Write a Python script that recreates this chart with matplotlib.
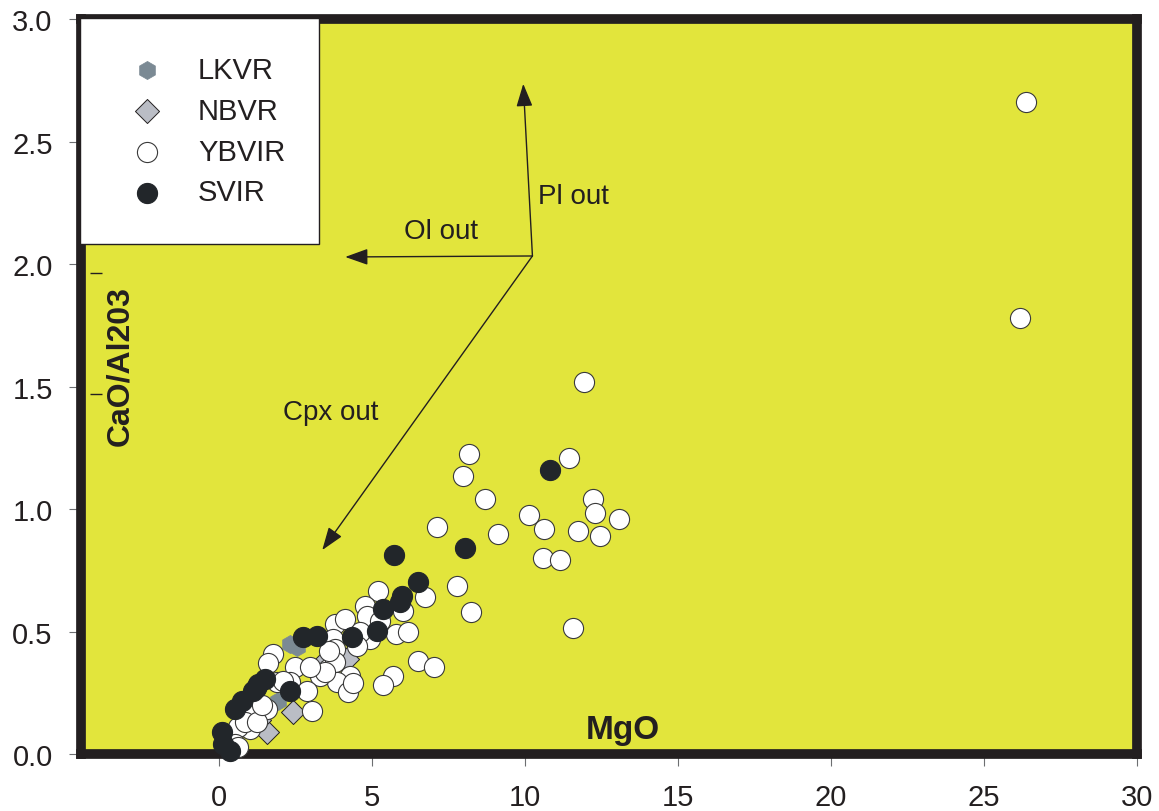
import numpy as np
import matplotlib
matplotlib.use("Agg")
import matplotlib.pyplot as plt

plt.rcParams['font.family'] = ['Liberation Sans', 'DejaVu Sans']

# MgO (wt%) vs CaO/Al2O3 for the four rock groups
lkvr_mgo = [2.55, 1.93, 2.3]
lkvr_ratio = [0.437, 0.217, 0.45]

nbvr_mgo = [2.42, 1.57, 4.19, 3.53, 1.3]
nbvr_ratio = [0.172, 0.09, 0.388, 0.388, 0.14]

ybvir_mgo = [26.37, 26.17, 11.94,
             8.18, 7.98, 8.70, 7.13, 9.13,
             11.42, 12.23, 12.27, 13.08, 10.14,
             10.63, 11.74, 12.46, 10.6, 11.15,
             7.79, 8.24, 11.55, 6.74,
             6.02, 5.2, 4.78, 5.79, 6.18,
             6.51, 7.03, 5.69, 5.36,
             4.84, 5.27, 4.94, 4.6,
             3.8, 3.73, 3.8, 3.57, 3.8,
             4.29, 3.86, 4.22, 4.38, 3.3,
             3.47, 1.77, 1.6, 2.49, 2.98,
             2.32, 2.88, 1.9, 3.04, 1.57,
             1.18, 1.01, 0.62, 0.85, 0.52,
             0.62, 1.24, 1.4, 2.1, 4.1, 4.5, 3.6]
ybvir_ratio = [2.663, 1.781, 1.52,
               1.225, 1.135, 1.04, 0.927, 0.899,
               1.21, 1.04, 0.985, 0.96, 0.976,
               0.919, 0.911, 0.891, 0.80, 0.793,
               0.686, 0.58, 0.515, 0.641,
               0.584, 0.666, 0.605, 0.49, 0.498,
               0.38, 0.355, 0.32, 0.28,
               0.564, 0.543, 0.47, 0.5,
               0.53, 0.47, 0.43, 0.347, 0.376,
               0.32, 0.294, 0.253, 0.29, 0.32,
               0.335, 0.41, 0.37, 0.355, 0.355,
               0.294, 0.257, 0.294, 0.176, 0.184,
               0.172, 0.102, 0.11, 0.13, 0.04,
               0.03, 0.13, 0.2, 0.3, 0.55, 0.44, 0.42]

svir_mgo = [10.8, 5.72, 8.05, 6.51, 5.99, 5.92, 5.36, 5.17, 4.35,
            2.75, 3.2, 2.32, 1.28, 1.5, 1.11, 0.75, 0.52, 0.1, 0.13, 0.36, 1.2]
svir_ratio = [1.16, 0.813, 0.841, 0.703, 0.646, 0.62, 0.592, 0.502, 0.478,
              0.478, 0.48, 0.257, 0.286, 0.306, 0.257, 0.217, 0.184, 0.09, 0.04, 0.012, 0.27]

# fractionation vectors: common origin and the three end points
vec_origin = (10.24, 2.034)
vec_ends = {'Pl': (9.94, 2.737), 'Ol': (4.12, 2.03), 'Cpx': (3.37, 0.833)}
vec_labels = {'Pl': (10.43, 2.28), 'Ol': (6.05, 2.136), 'Cpx': (2.09, 1.397)}

xticks = [0, 5, 10, 15, 20, 25, 30]
yticks = [0.0, 0.5, 1.0, 1.5, 2.0, 2.5, 3.0]

dark = '#231f20'
yellow = '#e2e53c'

fig = plt.figure(figsize=(11.59, 8.12), dpi=100)
ax = fig.add_axes([0.0703, 0.0702, 0.9107, 0.9046])
ax.set_facecolor(yellow)

ax.scatter(lkvr_mgo, lkvr_ratio, marker='h', s=170, c='#7b8a94', edgecolors='#7b8a94',
           linewidths=0.5, zorder=3, clip_on=False, label='LKVR')
ax.scatter(nbvr_mgo, nbvr_ratio, marker='D', s=150, c='#babdc5', edgecolors=dark,
           linewidths=0.7, zorder=3, clip_on=False, label='NBVR')
ax.scatter(ybvir_mgo, ybvir_ratio, marker='o', s=210, c='white', edgecolors='#3a3a3a',
           linewidths=0.8, zorder=4, clip_on=False, label='YBVIR')
ax.scatter(svir_mgo, svir_ratio, marker='o', s=210, c='#22262a', edgecolors='#22262a',
           linewidths=0.8, zorder=5, clip_on=False, label='SVIR')

for key, end in vec_ends.items():
    ax.annotate('', xy=end, xytext=vec_origin,
                arrowprops=dict(arrowstyle='-|>,head_length=0.7,head_width=0.25',
                                color=dark, lw=1.0, mutation_scale=20,
                                shrinkA=0, shrinkB=0), zorder=2)
    ax.text(vec_labels[key][0], vec_labels[key][1], key + ' out', fontsize=20,
            color=dark, ha='left', va='center')

ax.text(13.18, 0.10, 'MgO', fontsize=24, fontweight='bold', color=dark,
        ha='center', va='center')
ax.text(-3.24, 1.59, 'CaO/Al203', fontsize=23, fontweight='bold', color=dark,
        rotation=90, ha='center', va='center')
ax.hlines([1.965, 1.47], -4.22, -3.83, color=dark, lw=1.0)

ax.set_xlim(-4.5, 30)
ax.set_ylim(0, 3)
ax.set_xticks(xticks)
ax.set_xticklabels([str(t) for t in xticks])
ax.set_yticks(yticks)
ax.set_yticklabels(['%.1f' % t for t in yticks])
ax.tick_params(direction='out', length=8.7, width=0.8, color='#6d6e71',
               labelsize=21, labelcolor=dark, pad=12)

for side in ['left', 'right', 'top', 'bottom']:
    ax.spines[side].set_linewidth(7)
    ax.spines[side].set_color(dark)

leg = ax.legend(loc='upper left', bbox_to_anchor=(-0.0014, 1.002, 0.2264, 0.0),
                mode='expand', fontsize=21, frameon=True, fancybox=False,
                borderpad=1.3, labelspacing=0.44, handlelength=2.0,
                handletextpad=0.74, borderaxespad=0, scatterpoints=1)
leg.get_frame().set_edgecolor(dark)
leg.get_frame().set_linewidth(1.0)
leg.get_frame().set_alpha(1)
leg.set_zorder(10)
for t in leg.get_texts():
    t.set_color(dark)

fig.savefig('out.png', dpi=100)
